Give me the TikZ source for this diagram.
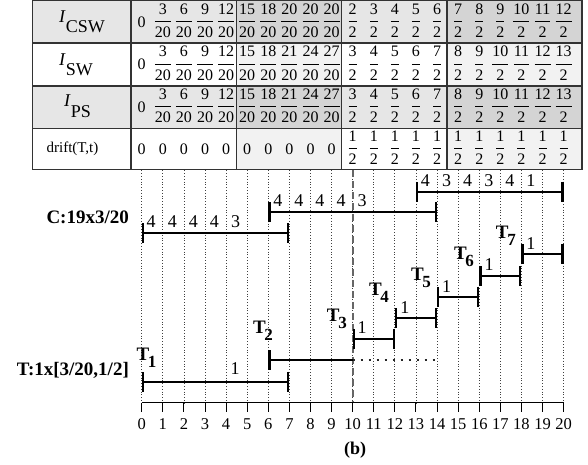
\documentclass[tikz,border=0pt]{standalone}
\usepackage{fontspec}
\setmainfont{Liberation Serif}
\usetikzlibrary{arrows.meta}
\definecolor{gA}{HTML}{E6E6E6}
\definecolor{gB}{HTML}{D4D4D4}
\definecolor{gC}{HTML}{F2F2F2}
\definecolor{tl}{HTML}{333333}
\newcommand\fr[2]{$\displaystyle\frac{\mbox{#1}}{\mbox{#2}}$}
\newcommand\tsub[1]{\textbf{T}\kern-1.4pt\raisebox{-7pt}{\fontsize{17}{17}\selectfont\bfseries #1}}
\begin{document}
\begin{tikzpicture}[x=21.1pt,y=-1pt,
  num/.style={font=\fontsize{16}{18}\selectfont,inner sep=0pt},
  axn/.style={font=\fontsize{16.5}{18}\selectfont,inner sep=0pt},
  bn/.style={font=\fontsize{18}{20}\selectfont,inner sep=0pt},
  frac/.style={font=\fontsize{16}{18}\selectfont,inner sep=0pt,anchor=base},
  blab/.style={font=\fontsize{19}{21}\selectfont\bfseries,inner sep=0pt},
  tlab/.style={font=\fontsize{19}{21}\selectfont\bfseries,inner sep=0pt},
  tline/.style={draw=tl,line width=1.4pt},
  grid/.style={dotted,line width=0.8pt,black!75},
  ibar/.style={line width=2.3pt,arrows={Bar[width=20pt]-Bar[width=20pt]}},
  lbar/.style={line width=2.3pt,arrows={Bar[width=20pt]-}},
  dline/.style={line width=1.6pt,black!60,dash pattern=on 7pt off 4pt}]
\useasboundingbox (-6.716,0) rectangle (21.152,465);
% ---- table fills
\fill[gA] (-5.166,0.8) rectangle (4.49,43);
\fill[gB] (4.49,0.8) rectangle (9.48,43);
\fill[gA] (9.48,0.8) rectangle (14.47,43);
\fill[gB] (14.47,0.8) rectangle (20.87,43);
\fill[gC] (4.49,43) rectangle (9.48,86);
\fill[gC] (14.47,43) rectangle (20.87,86);
\fill[gA] (-5.166,86) rectangle (4.49,128.3);
\fill[gB] (4.49,86) rectangle (9.48,128.3);
\fill[gA] (9.48,86) rectangle (14.47,128.3);
\fill[gB] (14.47,86) rectangle (20.87,128.3);
\fill[gC] (4.49,128.3) rectangle (9.48,169.3);
\fill[gC] (14.47,128.3) rectangle (20.87,169.3);
% ---- table lines
\draw[tline] (-5.166,0.8) rectangle (20.87,169.3);
\foreach \yy in {43,86,128.3} \draw[tline] (-5.166,\yy) -- (20.87,\yy);
\foreach \xx in {-0.507,4.49,9.48,14.47} \draw[tline] (\xx,0.8) -- (\xx,169.3);
% ---- row labels
\node[inner sep=0pt,font=\fontsize{18}{18}\selectfont] (lcsw) at (-2.83,21.9) {\textit{I}\raisebox{-10pt}{CSW}};
\node[inner sep=0pt,font=\fontsize{18}{18}\selectfont] (lsw) at (-3.11,64.5) {\textit{I}\raisebox{-10pt}{SW}};
\node[inner sep=0pt,font=\fontsize{18}{18}\selectfont] (lps) at (-3.04,106) {\textit{I}\raisebox{-11pt}{PS}};
\node[inner sep=0pt,font=\fontsize{15}{15}\selectfont] (ldr) at (-3.28,148.8) {drift(T,t)};
% ---- row 1
\node[num] (a0) at (0,21.9) {0};
\foreach \n [count=\i] in {3,6,9,12,15,18,20,20,20,2,3,4,5,6,7,8,9,10,11,12}{
  \pgfmathtruncatemacro\den{ifthenelse(\i<10,20,2)}
  \node[frac] (a\i) at (\i,25.9) {\fr{\n}{\den}};}
% ---- row 2
\node[num] (b0) at (0,64.5) {0};
\foreach \n [count=\i] in {3,6,9,12,15,18,21,24,27,3,4,5,6,7,8,9,10,11,12,13}{
  \pgfmathtruncatemacro\den{ifthenelse(\i<10,20,2)}
  \node[frac] (b\i) at (\i,68.5) {\fr{\n}{\den}};}
% ---- row 3
\node[num] (p0) at (0,107) {0};
\foreach \n [count=\i] in {3,6,9,12,15,18,21,24,27,3,4,5,6,7,8,9,10,11,12,13}{
  \pgfmathtruncatemacro\den{ifthenelse(\i<10,20,2)}
  \node[frac] (p\i) at (\i,111) {\fr{\n}{\den}};}
% ---- row 4
\foreach \i in {0,...,9} \node[num] (d\i) at (\i,148.8) {0};
\foreach \i in {10,...,20} \node[frac] (d\i) at (\i,152.8) {\fr{1}{2}};
% ---- grid
\foreach \i in {0,...,20} \draw[grid] (\i,170.5) -- (\i,403);
\draw[dline] (10,170.5) -- (10,403);
% ---- axis
\coordinate (ax0) at (0,403); \coordinate (ax20) at (20,403);
\draw[line width=1pt] (ax0) -- (ax20);
\foreach \i in {0,...,20}{
  \draw[line width=1pt] (\i,403) -- (\i,412);
  \node[axn] (x\i) at (\i,424) {\i};}
\node[inner sep=0pt,font=\fontsize{18}{18}\selectfont\bfseries] (cap) at (10.12,450) {(b)};
% ---- C bars
\coordinate (c1s) at (0,233.3); \coordinate (c1e) at (7,233.3);
\coordinate (c2s) at (6,212.3); \coordinate (c2e) at (14,212.3);
\coordinate (c3s) at (13,191.7); \coordinate (c3e) at (20,191.7);
\draw[ibar] (c1s) -- (c1e);
\draw[ibar] (c2s) -- (c2e);
\draw[ibar] (c3s) -- (c3e);
\foreach \v [count=\k from 0] in {4,4,4,4,3} \node[bn] (cn1\k) at (\k+0.45,221.5) {\v};
\foreach \v [count=\k from 6] in {4,4,4,4,3} \node[bn] (cn2\k) at (\k+0.45,200.8) {\v};
\foreach \v [count=\k from 13] in {4,3,4,3,4,1} \node[bn] (cn3\k) at (\k+0.45,180.3) {\v};
\node[blab,anchor=east] (clab) at (-0.6,217) {C:19x3/20};
% ---- T bars
\coordinate (t1s) at (0,381.7); \coordinate (t1e) at (7,381.7);
\coordinate (t2s) at (6,360); \coordinate (t2m) at (10,360); \coordinate (t2e) at (14,360);
\coordinate (t3s) at (10,339); \coordinate (t3e) at (12,339);
\coordinate (t4s) at (12,318.3); \coordinate (t4e) at (14,318.3);
\coordinate (t5s) at (14,296.7); \coordinate (t5e) at (16,296.7);
\coordinate (t6s) at (16,276); \coordinate (t6e) at (18,276);
\coordinate (t7s) at (18,254.3); \coordinate (t7e) at (20,254.3);
\draw[ibar] (t1s) -- (t1e);
\draw[lbar] (t2s) -- (t2m);
\draw[line width=2pt,black!85,dash pattern=on 2pt off 6pt] (t2m) -- (t2e);
\draw[ibar] (t3s) -- (t3e);
\draw[ibar] (t4s) -- (t4e);
\draw[ibar] (t5s) -- (t5e);
\draw[ibar] (t6s) -- (t6e);
\draw[ibar] (t7s) -- (t7e);
\node[bn] (tn1) at (4.43,369) {1};
\node[bn] (tn3) at (10.45,328) {1};
\node[bn] (tn4) at (12.47,308) {1};
\node[bn] (tn5) at (14.45,286.5) {1};
\node[bn] (tn6) at (16.46,265) {1};
\node[bn] (tn7) at (18.45,244) {1};
\node[tlab] (T1) at (0.23,358) {\tsub{1}};
\node[tlab] (T2) at (5.75,331) {\tsub{2}};
\node[tlab] (T3) at (9.25,319) {\tsub{3}};
\node[tlab] (T4) at (11.25,293) {\tsub{4}};
\node[tlab] (T5) at (13.24,277.5) {\tsub{5}};
\node[tlab] (T6) at (15.28,257) {\tsub{6}};
\node[tlab] (T7) at (17.26,235.5) {\tsub{7}};
\node[blab,anchor=east] (tlabel) at (-0.6,370.7) {T:1x[3/20,1/2]};
\end{tikzpicture}
\end{document}
